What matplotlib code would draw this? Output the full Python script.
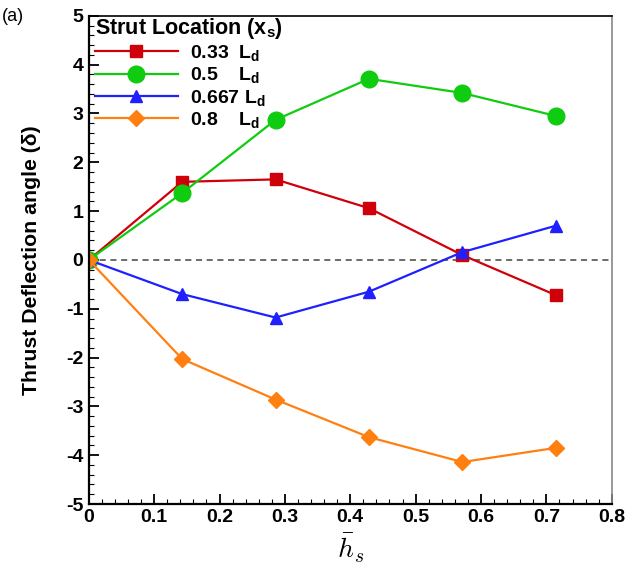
import matplotlib
matplotlib.use("Agg")
import matplotlib.pyplot as plt
from matplotlib.ticker import MultipleLocator

plt.rcParams['font.family'] = ['Liberation Sans', 'DejaVu Sans']
plt.rcParams['mathtext.fontset'] = 'custom'
plt.rcParams['mathtext.rm'] = 'Liberation Sans'
plt.rcParams['mathtext.bf'] = 'Liberation Sans:bold'
plt.rcParams['axes.unicode_minus'] = False

h_s = [0, 1/7, 2/7, 3/7, 4/7, 5/7]
d_033 = [0, 1.60, 1.65, 1.06, 0.10, -0.72]
d_05 = [0, 1.37, 2.87, 3.71, 3.42, 2.95]
d_0667 = [0, -0.70, -1.18, -0.65, 0.16, 0.70]
d_08 = [0, -2.03, -2.86, -3.63, -4.14, -3.85]
labels = [r'0.33  $\mathbf{L_d}$', r'0.5    $\mathbf{L_d}$',
          r'0.667 $\mathbf{L_d}$', r'0.8    $\mathbf{L_d}$']

fig = plt.figure(figsize=(6.3, 5.66), dpi=100)
ax = fig.add_axes([0.141, 0.1095, 0.830, 0.8625])

ax.axhline(0, color='#444444', lw=1.1, ls=(0, (4, 3)), zorder=1)
ax.plot(h_s, d_033, color='#d0000a', marker='s', ms=8, lw=1.6, label=labels[0])
ax.plot(h_s, d_05, color='#10cc10', marker='o', ms=12, lw=1.6, label=labels[1])
ax.plot(h_s, d_0667, color='#2020ff', marker='^', ms=9, lw=1.6, label=labels[2])
ax.plot(h_s, d_08, color='#ff8010', marker='D', ms=8, lw=1.6, label=labels[3])

ax.set_xlim(0, 0.8)
ax.set_ylim(-5, 5)
ax.xaxis.set_minor_locator(MultipleLocator(0.02))
ax.yaxis.set_major_locator(MultipleLocator(1))
ax.yaxis.set_minor_locator(MultipleLocator(0.2))
ax.set_xticks([0, 0.1, 0.2, 0.3, 0.4, 0.5, 0.6, 0.7, 0.8])
ax.set_xticklabels(['0', '0.1', '0.2', '0.3', '0.4', '0.5', '0.6', '0.7', '0.8'])
ax.tick_params(which='major', direction='in', length=7, width=1.3, labelsize=14)
ax.tick_params(which='minor', direction='in', length=3.5, width=0.8)
ax.tick_params(axis='both', which='both', top=False, right=False)
ax.tick_params(axis='y', pad=4)
for lbl in ax.get_xticklabels() + ax.get_yticklabels():
    lbl.set_fontweight('bold')
for s in ['left', 'bottom']:
    ax.spines[s].set_linewidth(1.6)
for s in ['top', 'right']:
    ax.spines[s].set_linewidth(1.2)
ax.spines['right'].set_color('#888888')

xl = ax.set_xlabel(r'$\bar{h}_s$', fontsize=20, labelpad=4)
xl.set_math_fontfamily('cm')
ax.set_ylabel('Thrust Deflection angle (δ)', fontsize=15.3, fontweight='bold', labelpad=18)

leg = ax.legend(loc='upper left', frameon=False, handlelength=4.3,
                title=r'Strut Location ($\mathbf{x_s}$)', title_fontsize=15.5,
                bbox_to_anchor=(0.0, 1.012),
                borderaxespad=0.1, labelspacing=0.12, handletextpad=0.6,
                prop={'weight': 'bold', 'size': 14}, borderpad=0.2)
leg.get_title().set_fontweight('bold')
leg._legend_box.align = 'left'

fig.text(0.003, 0.985, '(a)', fontsize=13, va='top', ha='left')

fig.savefig('out.png', dpi=100)
